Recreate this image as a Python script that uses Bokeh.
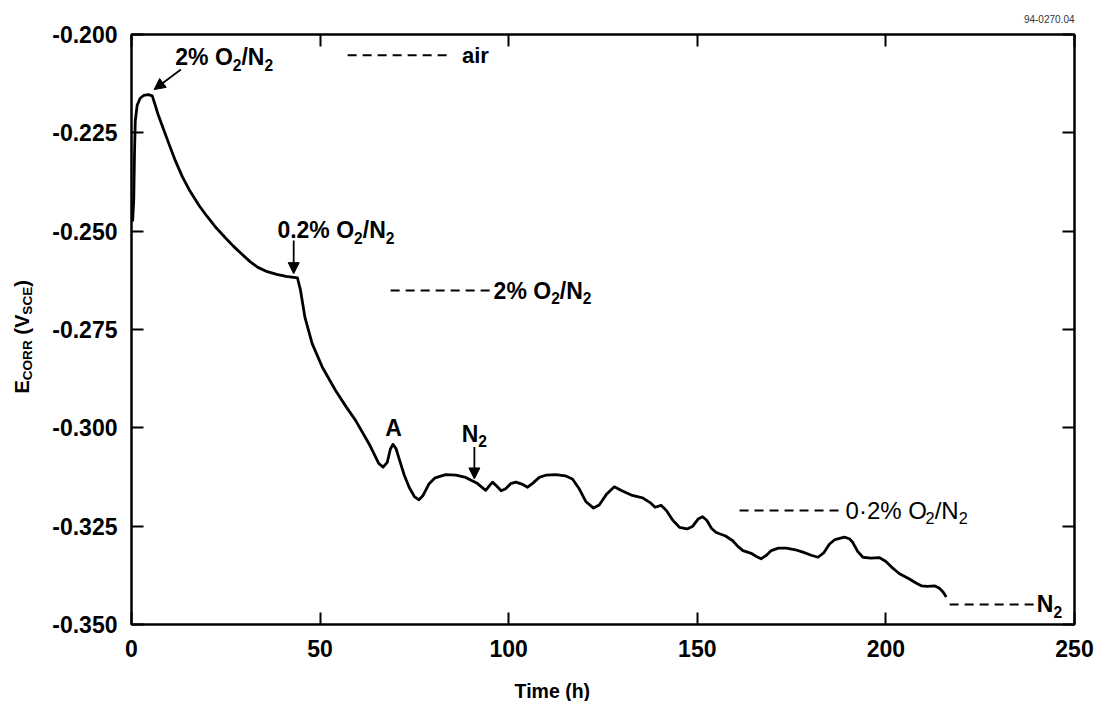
import math
from bokeh.plotting import figure
from bokeh.layouts import row, column
from bokeh.models import (Range1d, LinearAxis, FixedTicker, PrintfTickFormatter,
                          Label, Arrow, NormalHead, ColumnDataSource)
from bokeh.embed import file_html
from bokeh.resources import INLINE

# ---------------- data ----------------
time_h = [0.3, 0.6, 0.8, 1.0, 1.5, 2.3, 3.2, 4.5, 5.5, 6.3, 7.0, 8.0, 10.0, 11.5,
          13.5, 15.5, 18.0, 20.0, 22.5, 25.0, 27.0, 29.0, 31.5, 33.5, 36.0, 38.5,
          41.0, 44.0, 44.8, 46.0, 47.9, 50.6, 54.1, 57.0,
          59.4, 63.0, 65.5, 66.7, 67.8, 68.6, 69.3, 70.1, 71.0, 72.3, 73.6, 75.0,
          76.2, 77.3, 78.9, 80.5, 83.3, 86.0, 88.6, 91.5, 93.9, 94.8, 95.7, 96.8,
          98.0, 99.2, 100.5, 101.9, 103.5, 105.0, 106.5, 108.1, 110.0, 112.5, 115.0,
          116.9, 118.7, 120.5, 122.5, 124.0, 126.0, 128.0, 130.0, 132.5, 135.5,
          137.5, 138.8, 140.4, 141.8, 143.5, 145.3, 147.3, 148.8, 150.2, 151.4,
          152.5, 153.8, 155.0, 157.5, 159.4, 160.8, 162.1, 164.3, 165.8, 166.9,
          168.2, 169.6, 171.5, 173.6, 176.0, 178.0, 180.2, 182.0, 183.5, 185.0,
          186.5, 189.0, 190.3, 191.2, 192.5, 193.9, 196.0, 198.3, 200.0, 201.5,
          203.6, 206.0, 208.1, 209.5, 211.0, 213.0, 214.2, 215.2, 216.0]
e_corr = [-0.2475, -0.2420, -0.2300, -0.2220, -0.2180, -0.2162, -0.2155, -0.2153,
          -0.2156, -0.2180, -0.2202, -0.2228, -0.2280, -0.2318, -0.2362, -0.2398,
          -0.2436, -0.2462, -0.2492, -0.2518, -0.2538, -0.2556, -0.2578, -0.2592,
          -0.2603, -0.2610, -0.2615, -0.2619, -0.2650, -0.2720, -0.2786, -0.2846,
          -0.2905, -0.2948, -0.2981, -0.3041, -0.3090, -0.3100, -0.3088, -0.3055,
          -0.3042, -0.3052, -0.3080, -0.3120, -0.3151, -0.3175, -0.3183, -0.3172,
          -0.3142, -0.3127, -0.3119, -0.3120, -0.3126, -0.3140, -0.3159, -0.3148,
          -0.3138, -0.3148, -0.3160, -0.3155, -0.3142, -0.3138, -0.3143, -0.3151,
          -0.3140, -0.3126, -0.3120, -0.3119, -0.3122, -0.3130, -0.3155, -0.3188,
          -0.3204, -0.3196, -0.3168, -0.3150, -0.3160, -0.3171, -0.3178, -0.3190,
          -0.3202, -0.3197, -0.3210, -0.3235, -0.3253, -0.3257, -0.3250, -0.3232,
          -0.3226, -0.3235, -0.3256, -0.3266, -0.3275, -0.3287, -0.3302, -0.3312,
          -0.3319, -0.3328, -0.3333, -0.3325, -0.3312, -0.3306, -0.3306, -0.3310,
          -0.3316, -0.3324, -0.3329, -0.3318, -0.3296, -0.3284, -0.3278, -0.3282,
          -0.3291, -0.3314, -0.3329, -0.3331, -0.3330, -0.3340, -0.3354, -0.3371,
          -0.3383, -0.3395, -0.3402, -0.3403, -0.3402, -0.3408, -0.3418, -0.3430]

x_ticks = [0, 50, 100, 150, 200, 250]
y_ticks = [-0.350, -0.325, -0.300, -0.275, -0.250, -0.225, -0.200]

# gas-condition key: dashed line followed by its label  (text parts: (string, is_subscript))
gas_labels = [
    [("air", False)],
    [("2% O", False), ("2", True), ("/N", False), ("2", True)],
    [("0·2% O", False), ("2", True), ("/N", False), ("2", True)],
    [("N", False), ("2", True)],
]
gas_x0 = [57.3, 68.7, 161.2, 216.9]
gas_x1 = [84.0, 95.6, 188.5, 239.6]
gas_text_x = [87.6, 96.0, 189.3, 240.0]
gas_y = [-0.2053, -0.2651, -0.3210, -0.3449]
gas_bold = [True, True, False, True]
gas_size = [22, 23, 24, 23]

# event annotations with arrows
note_labels = [
    [("2% O", False), ("2", True), ("/N", False), ("2", True)],
    [("0.2% O", False), ("2", True), ("/N", False), ("2", True)],
    [("A", False)],
    [("N", False), ("2", True)],
]
note_x = [11.6, 54.2, 69.5, 90.9]
note_y = [-0.2058, -0.2498, -0.3001, -0.3015]
note_align = ["left", "center", "center", "center"]
arrow_x0 = [13.1, 43.0, 90.9]
arrow_y0 = [-0.2089, -0.2524, -0.3049]
arrow_x1 = [6.0, 43.0, 90.9]
arrow_y1 = [-0.2140, -0.2608, -0.3130]

x_title = [("Time (h)", False)]
y_title = [("E", False), ("CORR", True), (" (V", False), ("SCE", True), (")", False)]
fig_code = "94-0270.04"

FONT = "Liberation Sans"

# Arial / Liberation Sans advance widths (1/1000 em)
W_BOLD = {" ": 278, "%": 889, "(": 333, ")": 333, ".": 278, "/": 278, "·": 278,
          "A": 722, "C": 722, "E": 667, "N": 722, "O": 778, "R": 722, "S": 667,
          "V": 667, "T": 611, "a": 556, "i": 278, "r": 389, "m": 889, "e": 556,
          "h": 611}
W_REG = {" ": 278, "%": 889, "(": 333, ")": 333, ".": 278, "/": 278, "·": 278,
         "A": 667, "C": 722, "E": 667, "N": 722, "O": 778, "R": 722, "S": 667,
         "V": 667, "T": 611, "a": 556, "i": 222, "r": 333, "m": 833, "e": 556,
         "h": 556}


def text_width(s, size, bold):
    t = W_BOLD if bold else W_REG
    return sum(t.get(c, 556) for c in s) * size / 1000.0


def rich(fig, x, y, parts, size, bold=True, align="left", angle=0.0, sub_scale=0.68):
    sizes = [size * (sub_scale if sub else 1.0) for _, sub in parts]
    widths = [text_width(s, fs, bold) for (s, _), fs in zip(parts, sizes)]
    total = sum(widths)
    off = {"left": 0.0, "center": -total / 2.0, "right": -total}[align]
    for (s, sub), fs, w in zip(parts, sizes, widths):
        lead = len(s) - len(s.lstrip(" "))
        shown = s.lstrip(" ")
        pos = off + text_width(" " * lead, fs, bold)
        dy = -0.32 * size if sub else 0.0
        if angle == 0.0:
            xo, yo = pos, dy
        else:
            xo, yo = -dy, pos
        fig.add_layout(Label(x=x, y=y, x_offset=xo, y_offset=yo, text=shown,
                             text_font=FONT, text_font_size=f"{fs:.1f}px",
                             text_font_style="bold" if bold else "normal",
                             text_baseline="middle", text_align="left",
                             angle=angle, text_color="black"))
        off += w


TOP, FRAME_H, BOTTOM, XLAB_H = 34, 590, 44, 33
YLAB_W, FRAME_LEFT, FRAME_W, RIGHT = 40, 131, 943, 20

# ---------------- main chart ----------------
p = figure(frame_width=FRAME_W, frame_height=FRAME_H,
           x_range=Range1d(0, 250), y_range=Range1d(-0.35, -0.2),
           output_backend="svg", toolbar_location=None,
           min_border_left=FRAME_LEFT - YLAB_W, min_border_right=RIGHT,
           min_border_top=TOP, min_border_bottom=BOTTOM,
           background_fill_color="white", border_fill_color="white",
           title=fig_code)
p.title.align = "right"
p.title.text_font = FONT
p.title.text_font_size = "10px"
p.title.text_font_style = "normal"
p.title.text_color = "#333333"
p.title.standoff = 23
p.grid.visible = False
p.outline_line_color = "black"
p.outline_line_width = 2

p.add_layout(LinearAxis(), "above")
p.add_layout(LinearAxis(), "right")

for ax in p.xaxis:
    ax.ticker = FixedTicker(ticks=x_ticks)
for ax in p.yaxis:
    ax.ticker = FixedTicker(ticks=y_ticks)
    ax.formatter = PrintfTickFormatter(format="%.3f")

for ax in p.axis:
    ax.axis_line_color = "black"
    ax.axis_line_width = 2
    ax.major_tick_line_color = "black"
    ax.major_tick_line_width = 2
    ax.major_tick_in = 12
    ax.major_tick_out = 0
    ax.minor_tick_line_color = None
    ax.major_label_text_font = FONT
    ax.major_label_text_font_style = "bold"
    ax.major_label_text_font_size = "23px"
    ax.major_label_text_color = "black"

p.below[0].major_label_standoff = 15
p.left[0].major_label_standoff = 14
for ax in (p.above[0], p.right[0]):
    ax.major_label_text_font_size = "1px"
    ax.major_label_text_color = None
    ax.major_label_standoff = 0

# curve
p.line(time_h, e_corr, line_color="black", line_width=2.8, line_join="round")

# gas key
for parts, x0, x1, tx, y, b, fs in zip(gas_labels, gas_x0, gas_x1, gas_text_x,
                                       gas_y, gas_bold, gas_size):
    p.line([x0, x1], [y, y], line_color="black", line_width=2, line_dash="9 6")
    rich(p, tx, y, parts, fs, bold=b, align="left")

# event notes
for parts, x, y, al in zip(note_labels, note_x, note_y, note_align):
    rich(p, x, y, parts, 23, bold=True, align=al)

asrc = ColumnDataSource(dict(x0=arrow_x0, y0=arrow_y0, x1=arrow_x1, y1=arrow_y1))
p.add_layout(Arrow(end=NormalHead(size=11, fill_color="black", line_color="black",
                                  line_width=1),
                   x_start="x0", y_start="y0", x_end="x1", y_end="y1",
                   source=asrc, line_color="black", line_width=1.8))

# ---------------- y-axis title strip (shares the y range) ----------------
ylab = figure(frame_width=YLAB_W, frame_height=FRAME_H,
              x_range=Range1d(0, YLAB_W), y_range=p.y_range,
              x_axis_type=None, y_axis_type=None,
              output_backend="svg", toolbar_location=None,
              min_border_left=0, min_border_right=0,
              min_border_top=TOP, min_border_bottom=BOTTOM)
ylab.outline_line_color = None
ylab.grid.visible = False
rich(ylab, 21, -0.2913, y_title, 20, bold=True, align="left", angle=math.pi / 2)

# ---------------- x-axis title strip ----------------
TOTAL_W = FRAME_LEFT + FRAME_W + RIGHT
xlab = figure(frame_width=TOTAL_W, frame_height=XLAB_H,
              x_range=Range1d(0, TOTAL_W), y_range=Range1d(0, XLAB_H),
              x_axis_type=None, y_axis_type=None,
              output_backend="svg", toolbar_location=None,
              min_border_left=0, min_border_right=0,
              min_border_top=0, min_border_bottom=0)
xlab.outline_line_color = None
xlab.grid.visible = False
rich(xlab, 552, 11, x_title, 19.5, bold=True, align="center")

layout = column(row(ylab, p), xlab)
open("out.html", "w").write(file_html(layout, INLINE))
